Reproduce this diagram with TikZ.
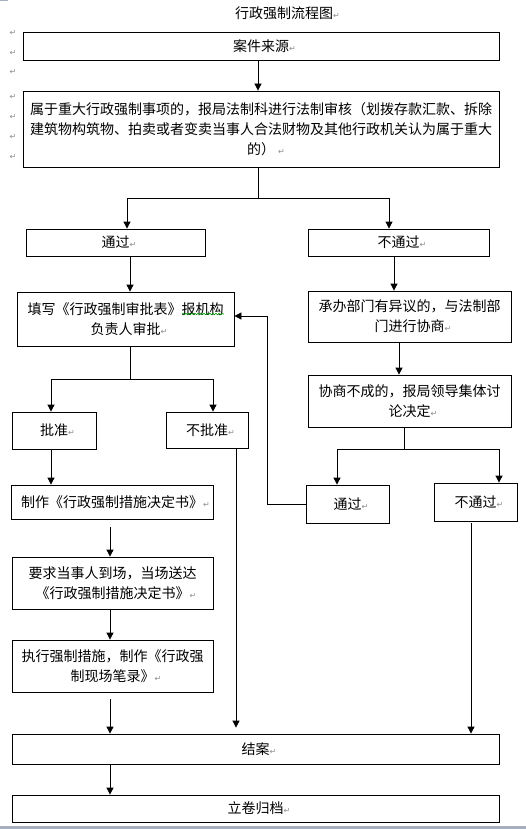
\documentclass[tikz,border=0pt]{standalone}
\usepackage{fontspec}
\setmainfont{Noto Sans CJK SC}
\newfontfamily\djv{DejaVu Sans}
\usetikzlibrary{arrows.meta,decorations.pathmorphing}
\definecolor{pgray}{RGB}{165,175,190}
\newcommand\pmk{{\djv\fontsize{8}{8}\selectfont\color{black!45}↵}}
\begin{document}
\begin{tikzpicture}[x=1pt,y=-1pt,
  bx/.style={draw,line width=0.8pt,inner sep=0pt,align=center,font=\fontsize{14}{20}\selectfont},
  arr/.style={-{Triangle[width=7pt,length=7pt]},line width=0.8pt},
  ln/.style={line width=0.8pt},
  mk/.style={inner sep=0pt}
  ]
\useasboundingbox (0,0) rectangle (526,829);
\fill[pgray] (0,826) rectangle (526,829);
\fill[pgray] (0,0) rectangle (8,1.5);
% title
\node[inner sep=0pt,font=\fontsize{14}{16}\selectfont] (title) at (284,13) {行政强制流程图\rlap{\pmk}};
% margin marks
\foreach \yy in {33,53,72,97,117,137,157} \node[mk] (m\yy) at (13,\yy) {\pmk};
% boxes
\node[bx,minimum width=476pt,minimum height=28pt] (src) at (261,46) {案件来源\rlap{\pmk}};
\node[bx,minimum width=476pt,minimum height=76pt] (big) at (261,129) {属于重大行政强制事项的，报局法制科进行法制审核（划拨存款汇款、拆除\\建筑物构筑物、拍卖或者变卖当事人合法财物及其他行政机关认为属于重大\\的）\rlap{ \pmk}};
\node[bx,minimum width=179pt,minimum height=27pt] (pass1) at (115.5,242.5) {通过\rlap{\pmk}};
\node[bx,minimum width=181pt,minimum height=27pt] (fail1) at (398.5,242.5) {不通过\rlap{\pmk}};
\node[bx,minimum width=217pt,minimum height=54pt] (fill) at (125.5,319) {填写《行政强制审批表》报机构\\负责人审批\rlap{\pmk}};
\node[bx,minimum width=203pt,minimum height=51pt] (dept) at (409.5,316.5) {承办部门有异议的，与法制部\\门进行协商\rlap{\pmk}};
\node[bx,minimum width=203pt,minimum height=52pt] (neg) at (409.5,401) {协商不成的，报局领导集体讨\\论决定\rlap{\pmk}};
\node[bx,minimum width=84pt,minimum height=37pt] (appr) at (54,430.5) {批准\rlap{\pmk}};
\node[bx,minimum width=82pt,minimum height=36pt] (rej) at (207,430) {不批准\rlap{\pmk}};
\node[bx,minimum width=83pt,minimum height=38pt] (pass2) at (347.5,504) {通过\rlap{\pmk}};
\node[bx,minimum width=83pt,minimum height=38pt] (fail2) at (475.5,502) {不通过\rlap{\pmk}};
\node[bx,minimum width=202pt,minimum height=34pt] (make) at (112,502) {制作《行政强制措施决定书》\rlap{\pmk}};
\node[bx,minimum width=201pt,minimum height=52pt] (req) at (112.5,583) {要求当事人到场，当场送达\\《行政强制措施决定书》\rlap{\pmk}};
\node[bx,minimum width=201pt,minimum height=52pt] (exec) at (112.5,666) {执行强制措施，制作《行政强\\制现场笔录》\rlap{\pmk}};
\node[bx,minimum width=487pt,minimum height=30pt] (close) at (255.5,749) {结案\rlap{\pmk}};
\node[bx,minimum width=487pt,minimum height=27pt] (arch) at (255.5,808.5) {立卷归档\rlap{\pmk}};
% spell-check underline
\draw[green!60!black,line width=0.6pt,decorate,decoration={snake,amplitude=0.8pt,segment length=3pt}] (182,314) -- (224,314);
% x helpers
\coordinate (x258) at (258,0);
\coordinate (x127) at (127,0);
\coordinate (x389) at (389,0);
\coordinate (x130) at (130,0);
\coordinate (x394) at (394,0);
\coordinate (x399) at (399,0);
\coordinate (x51) at (51,0);
\coordinate (x213) at (213,0);
\coordinate (x404) at (404,0);
\coordinate (x337) at (337,0);
\coordinate (x499) at (499,0);
\coordinate (x110) at (110,0);
\coordinate (x236) at (236,0);
\coordinate (x471) at (471,0);
\coordinate (s1) at (258,198);
\coordinate (s2) at (130,379);
\coordinate (s3) at (404,449);
\coordinate (fb) at (267,316);
% connectors
\draw[arr] (x258 |- src.south) -- (x258 |- big.north);
\draw[ln] (x258 |- big.south) -- (s1);
\draw[arr] (s1) -| (x127 |- pass1.north);
\draw[arr] (s1) -| (x389 |- fail1.north);
\draw[arr] (x130 |- pass1.south) -- (x130 |- fill.north);
\draw[arr] (x394 |- fail1.south) -- (x394 |- dept.north);
\draw[arr] (x399 |- dept.south) -- (x399 |- neg.north);
\draw[ln] (x130 |- fill.south) -- (s2);
\draw[arr] (s2) -| (x51 |- appr.north);
\draw[arr] (s2) -| (x213 |- rej.north);
\draw[ln] (x404 |- neg.south) -- (s3);
\draw[arr] (s3) -| (x337 |- pass2.north);
\draw[arr] (s3) -| (x499 |- fail2.north);
\draw[arr] (pass2.west) -| (fb) -- (fill.east |- fb);
\draw[arr] (x51 |- appr.south) -- (x51 |- make.north);
\draw[arr,shorten <=8pt] (x110 |- make.south) -- (x110 |- req.north);
\draw[arr] (x110 |- req.south) -- (x110 |- exec.north);
\draw[arr,shorten <=7pt] (x110 |- exec.south) -- (x110 |- close.north);
\draw[arr,shorten >=6pt] (x236 |- rej.south) -- (x236 |- close.north);
\draw[arr,shorten <=2pt] (x471 |- fail2.south) -- (x471 |- close.north);
\draw[arr] (x110 |- close.south) -- (x110 |- arch.north);
\end{tikzpicture}
\end{document}
